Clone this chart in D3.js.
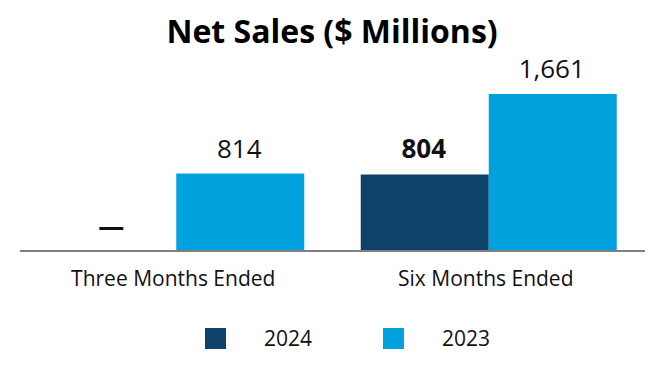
<!DOCTYPE html>
<html>
<head>
<meta charset="utf-8">
<script src="https://cdn.jsdelivr.net/npm/d3@7"></script>
<style>
  body { margin: 0; background: #fff; }
  text { font-family: "Open Sans", sans-serif; }
</style>
</head>
<body>
<svg id="chart" width="666" height="380"></svg>
<script>
var width = 666;
var height = 380;

// data
var categories = ["Three Months Ended", "Six Months Ended"];
var seriesNames = ["2024", "2023"];
var values2024 = [null, 804];
var values2023 = [814, 1661];
var labels2024 = ["\u2014", "804"];
var labels2023 = ["814", "1,661"];
var colors = ["#0e426b", "#00a1dc"];

var svg = d3.select("#chart");

var x0 = d3.scaleBand().domain(categories).range([20, 645]).paddingInner(0).paddingOuter(0);
var x1 = d3.scaleBand().domain(seriesNames).range([0, 256]);
var y = d3.scaleLinear().domain([0, 1661]).range([250, 94]);

svg.append("text")
  .attr("x", width / 2 - 1)
  .attr("y", 43)
  .attr("text-anchor", "middle")
  .style("font-size", "32px")
  .style("font-weight", "bold")
  .text("Net Sales ($ Millions)");

var rows = categories.map((c, i) => ({
  cat: c,
  items: [
    { s: "2024", v: values2024[i], label: labels2024[i], bold: true },
    { s: "2023", v: values2023[i], label: labels2023[i], bold: false }
  ]
}));

var groups = svg.selectAll(".group")
  .data(rows)
  .enter().append("g")
  .attr("class", "group")
  .attr("transform", d => `translate(${x0(d.cat) + x0.bandwidth() / 2 - 128},0)`);

groups.selectAll("rect")
  .data(d => d.items.filter(it => it.v !== null))
  .enter().append("rect")
  .attr("x", d => x1(d.s))
  .attr("y", d => y(d.v))
  .attr("width", x1.bandwidth())
  .attr("height", d => y(0) - y(d.v))
  .attr("fill", d => colors[seriesNames.indexOf(d.s)]);

groups.selectAll(".val")
  .data(d => d.items)
  .enter().append("text")
  .attr("class", "val")
  .attr("x", d => x1(d.s) + x1.bandwidth() / 2 - 1)
  .attr("y", d => d.v === null ? y(0) - 14 : y(d.v) - 16)
  .attr("text-anchor", "middle")
  .style("font-size", "26px")
  .style("font-weight", d => d.bold ? "bold" : "normal")
  .style("fill", "#111")
  .text(d => d.label);

// baseline
svg.append("line")
  .attr("x1", 20).attr("x2", 645)
  .attr("y1", y(0) + 1).attr("y2", y(0) + 1)
  .attr("stroke", "#7f7f7f")
  .attr("stroke-width", 2);

svg.selectAll(".cat")
  .data(categories)
  .enter().append("text")
  .attr("class", "cat")
  .attr("x", d => x0(d) + x0.bandwidth() / 2 - 3)
  .attr("y", 286)
  .attr("text-anchor", "middle")
  .style("font-size", "21px")
  .style("fill", "#111")
  .text(d => d);

// legend
var legendX = [205, 383];
seriesNames.forEach((s, i) => {
  svg.append("rect")
    .attr("x", legendX[i]).attr("y", 328)
    .attr("width", 21).attr("height", 21)
    .attr("fill", colors[i]);
  svg.append("text")
    .attr("x", legendX[i] + 59).attr("y", 346)
    .style("font-size", "21px")
    .style("fill", "#111")
    .text(s);
});
</script>
</body>
</html>
